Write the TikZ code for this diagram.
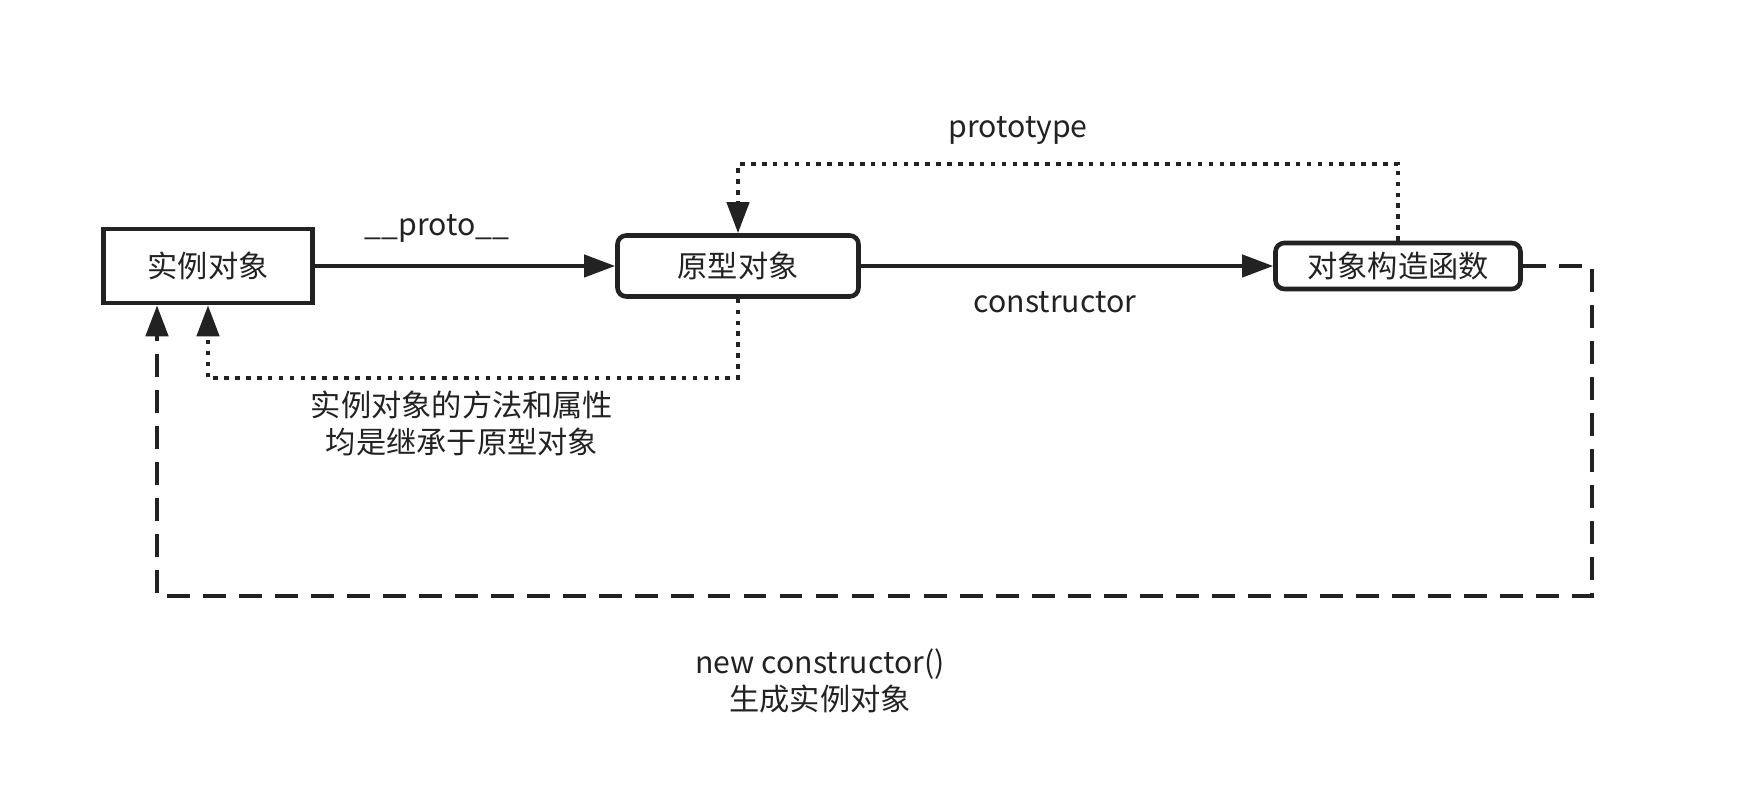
\documentclass[tikz,border=0pt]{standalone}
\usepackage{fontspec}
\setmainfont{Noto Sans CJK SC}
\usepackage{tikz}
\usetikzlibrary{arrows.meta,positioning,calc}
\definecolor{inkgray}{RGB}{34,34,34}

\begin{document}
\begin{tikzpicture}[
  every node/.style={font=\fontsize{17.2}{21}\selectfont, text=inkgray},
  objbox/.style={draw=inkgray, line width=2.6pt, inner sep=0pt},
  solidarrow/.style={-{Triangle[length=0.62cm, width=0.44cm]}, inkgray, line width=2.4pt},
  dotarrow/.style={-{Triangle[length=0.62cm, width=0.44cm]}, inkgray, line width=2.5pt, dash pattern=on 2.6pt off 3.6pt},
  dasharrow/.style={-{Triangle[length=0.62cm, width=0.44cm]}, inkgray, line width=2.6pt, dash pattern=on 13pt off 7.5pt}
]
  \useasboundingbox (0,0) rectangle (34.84,16.2);

  % Object boxes
  \node[objbox, minimum width=4.18cm, minimum height=1.48cm] (inst) at (4.16, 10.88) {实例对象};
  \node[objbox, rounded corners=5pt, minimum width=4.82cm, minimum height=1.22cm] (proto) at (14.76, 10.88) {原型对象};
  \node[objbox, rounded corners=5pt, minimum width=4.9cm, minimum height=0.92cm] (ctor) at (27.96, 10.88) {对象构造函数};

  % Solid links
  \draw[solidarrow] (inst) -- (proto);
  \draw[solidarrow] (proto) -- (ctor);
  \node (protolbl) at (8.74, 11.64) {\_\_proto\_\_};
  \node (ctorlbl) at (21.1, 10.16) {constructor};

  % Dotted links
  \draw[dotarrow] (ctor.north) -- (ctor.north |- 0,12.92) -| (proto.north);
  \node (prototypelbl) at (20.36, 13.58) {prototype};
  \draw[dotarrow] (proto.south) -- (proto.south |- 0,8.64) -| (inst.south);
  \node[align=center] (inheritlbl) at (9.24, 7.74) {实例对象的方法和属性\\均是继承于原型对象};

  % Dashed link back to the instance
  \coordinate (dashR) at (31.84, 4.28);
  \coordinate (dashL) at (3.14, 4.28);
  \draw[dasharrow] (ctor.east) -| (dashR) -- (dashL) -- (dashL |- inst.south);
  \node[align=center] (newlbl) at (16.4, 2.58) {new constructor()\\生成实例对象};
\end{tikzpicture}
\end{document}
